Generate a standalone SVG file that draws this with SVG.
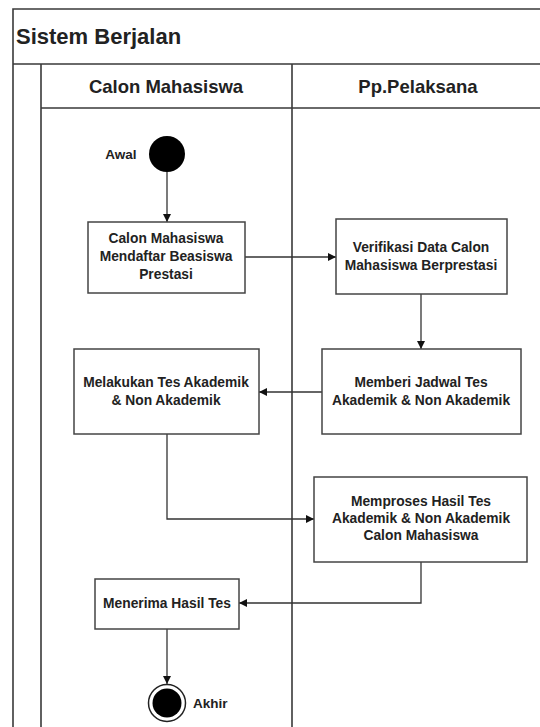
<svg xmlns="http://www.w3.org/2000/svg" width="540" height="727" viewBox="0 0 540 727">
<style>
.frame{fill:none;stroke:#3a3a3a;stroke-width:1.6}
.box{fill:#fff;stroke:#444;stroke-width:1.5}
.t{font-family:"Liberation Sans",Arial,sans-serif;font-weight:bold;fill:#222;text-anchor:middle}
.n{font-size:13.8px}
.conn{fill:none;stroke:#333;stroke-width:1.3}
</style>
<defs>
<marker id="ah" viewBox="0 0 10 10" refX="10" refY="5" markerWidth="8" markerHeight="8" markerUnits="userSpaceOnUse" orient="auto">
<path d="M0,0 L10,5 L0,10 z" fill="#111"/>
</marker>
</defs>
<rect width="540" height="727" fill="#fff"/>
<g id="swimlanes">
<path class="frame" d="M13,727 V9 H541 M13,64 H541 M41,108 H541 M41,64 V727 M292,64 V727"/>
<text class="t" x="16" y="44" style="font-size:22px;text-anchor:start">Sistem Berjalan</text>
<text class="t" x="166" y="93" style="font-size:18.5px">Calon Mahasiswa</text>
<text class="t" x="418" y="93" style="font-size:18.5px">Pp.Pelaksana</text>
</g>
<g id="connectors">
<path class="conn" d="M167,172 V222" marker-end="url(#ah)"/>
<path class="conn" d="M245,257 H336" marker-end="url(#ah)"/>
<path class="conn" d="M421,294 V349" marker-end="url(#ah)"/>
<path class="conn" d="M322,392 H259" marker-end="url(#ah)"/>
<path class="conn" d="M167,434 V519 H314" marker-end="url(#ah)"/>
<path class="conn" d="M421,562 V603 H239" marker-end="url(#ah)"/>
<path class="conn" d="M167,629 V684" marker-end="url(#ah)"/>
</g>
<g id="start">
<circle cx="167" cy="154" r="18" fill="#000"/>
<text class="t" x="121" y="159" style="font-size:13.5px">Awal</text>
</g>
<g id="n1">
<rect class="box" x="88" y="222" width="157" height="71"/>
<text class="t n" x="166" y="243">Calon Mahasiswa</text>
<text class="t n" x="166" y="261">Mendaftar Beasiswa</text>
<text class="t n" x="166" y="279">Prestasi</text>
</g>
<g id="n2">
<rect class="box" x="336" y="219" width="171" height="75"/>
<text class="t n" x="421" y="252">Verifikasi Data Calon</text>
<text class="t n" x="421" y="270">Mahasiswa Berprestasi</text>
</g>
<g id="n3">
<rect class="box" x="322" y="349" width="199" height="85"/>
<text class="t n" x="421" y="387">Memberi Jadwal Tes</text>
<text class="t n" x="421" y="405">Akademik &amp; Non Akademik</text>
</g>
<g id="n4">
<rect class="box" x="74" y="349" width="185" height="85"/>
<text class="t n" x="166" y="387">Melakukan Tes Akademik</text>
<text class="t n" x="166" y="405">&amp; Non Akademik</text>
</g>
<g id="n5">
<rect class="box" x="314" y="477" width="213" height="85"/>
<text class="t n" x="421" y="506">Memproses Hasil Tes</text>
<text class="t n" x="421" y="523">Akademik &amp; Non Akademik</text>
<text class="t n" x="421" y="540">Calon Mahasiswa</text>
</g>
<g id="n6">
<rect class="box" x="95" y="579" width="144" height="50"/>
<text class="t n" x="167" y="608">Menerima Hasil Tes</text>
</g>
<g id="end">
<circle cx="167" cy="703" r="18.5" fill="#fff" stroke="#222" stroke-width="1.5"/>
<circle cx="167" cy="703" r="14.5" fill="#000"/>
<text class="t" x="193" y="708" style="font-size:13.5px;text-anchor:start">Akhir</text>
</g>
</svg>
